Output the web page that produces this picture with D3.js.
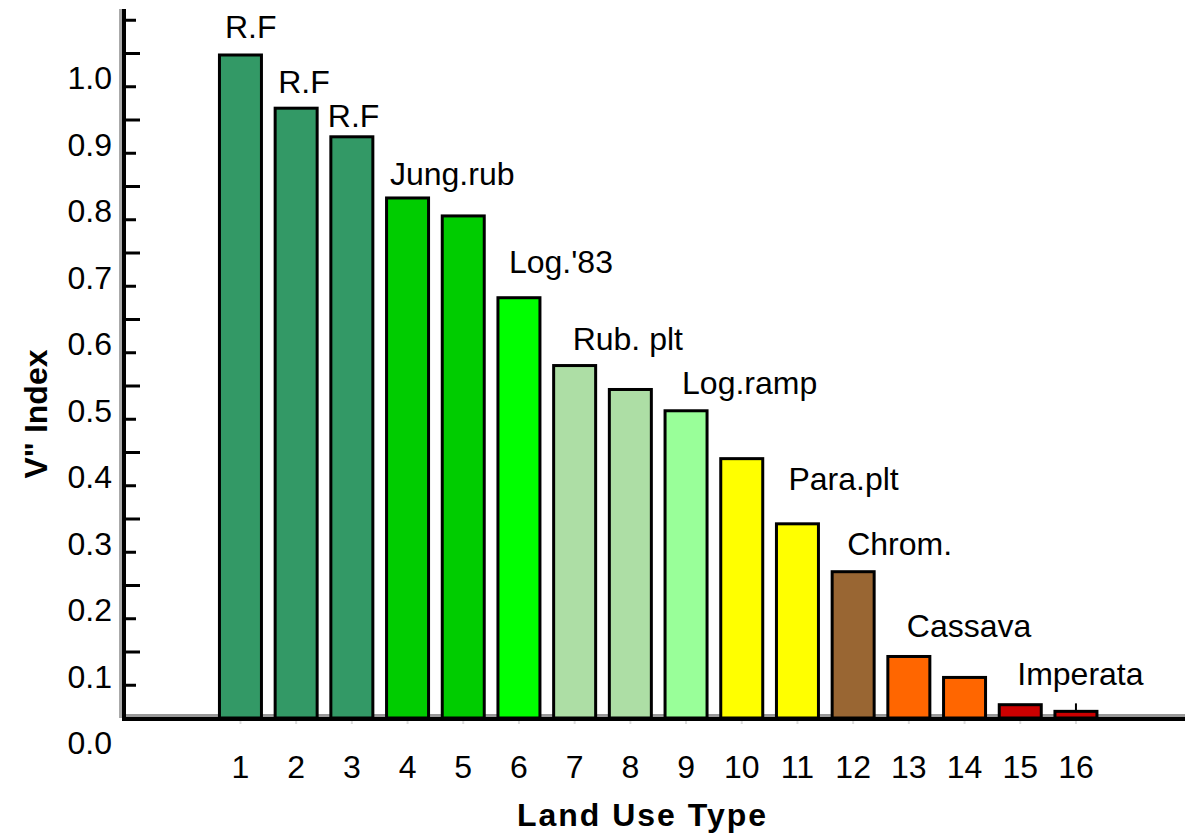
<!DOCTYPE html>
<html>
<head>
<meta charset="utf-8">
<script src="https://cdn.jsdelivr.net/npm/d3@7"></script>
<style>
  html, body { margin: 0; padding: 0; background: #fff; }
  svg { display: block; }
  text { font-family: "Liberation Sans", Arial, sans-serif; fill: #000; }
</style>
</head>
<body>
<svg id="chart" width="1185" height="833"></svg>
<script>
// ---- data ----
const categories = ["1","2","3","4","5","6","7","8","9","10","11","12","13","14","15","16"];
const values = [0.997, 0.917, 0.874, 0.782, 0.755, 0.632, 0.530, 0.494, 0.462, 0.390, 0.292, 0.220, 0.0925, 0.061, 0.020, 0.010];
const barColors = ["#339966","#339966","#339966","#00cc00","#00cc00","#00ff00","#addea5","#addea5","#99ff99","#ffff00","#ffff00","#996633","#ff6600","#ff6600","#cc0000","#cc0000"];
const yTickValues = [0.0,0.1,0.2,0.3,0.4,0.5,0.6,0.7,0.8,0.9,1.0];
const yTickLabels = ["0.0","0.1","0.2","0.3","0.4","0.5","0.6","0.7","0.8","0.9","1.0"];
const labelTexts = ["R.F","R.F","R.F","Jung.rub","Log.'83","Rub. plt","Log.ramp","Para.plt","Chrom.","Cassava","Imperata"];
const labelCats  = ["1","2","3","4","6","7","9","11","12","13","15"];
const xTitle = "Land Use Type";
const yTitle = "V\" Index";

// ---- layout (positions/styles) ----
const labelOffsets = [[5.5,-17],[3,-15.5],[-3,-9.5],[3.4,-13],[11,-24.5],[19,-16],[17,-16.5],[12,-34],[15,-16.5],[19,-19.5],[18,-19.5]];

const svg = d3.select("#chart");
const x = d3.scaleBand().domain(categories).range([212.6, 1103.8]).paddingInner(0.246).paddingOuter(0.123);
const y = d3.scaleLinear().domain([0, 1]).range([718, 53]);
const valueOf = {};
categories.forEach((c, i) => valueOf[c] = values[i]);

// light grey shadow lines
svg.append("line").attr("x1", 120.5).attr("x2", 120.5).attr("y1", 9).attr("y2", 718)
  .attr("stroke", "#aaaaaa").attr("stroke-width", 3);
svg.append("line").attr("x1", 124).attr("x2", 1185).attr("y1", 715.5).attr("y2", 715.5)
  .attr("stroke", "#999999").attr("stroke-width", 3);

// y axis ticks (major at 0.1, minor at 0.05)
const majorTicks = d3.range(1, 11).map(d => d / 10);
const minorTicks = d3.range(0, 11).map(d => d / 10 + 0.05);
svg.append("g").attr("transform", "translate(126,0)")
  .call(d3.axisRight(y).tickValues(majorTicks).tickSize(14).tickFormat(""))
  .call(g => g.select(".domain").remove())
  .call(g => g.selectAll(".tick line").attr("stroke", "#000").attr("stroke-width", 3));
svg.append("g").attr("transform", "translate(126,0)")
  .call(d3.axisRight(y).tickValues(minorTicks).tickSize(10).tickFormat(""))
  .call(g => g.select(".domain").remove())
  .call(g => g.selectAll(".tick line").attr("stroke", "#000").attr("stroke-width", 3));

// y tick labels (offset below their ticks as in the reference)
svg.append("g").selectAll("text").data(yTickValues).join("text")
  .attr("x", 112).attr("y", d => y(d) + 36)
  .attr("text-anchor", "end")
  .style("font-size", "32px")
  .text((d, i) => yTickLabels[i]);

// bars
svg.append("g").selectAll("rect").data(categories).join("rect")
  .attr("x", d => x(d)).attr("width", x.bandwidth())
  .attr("y", (d, i) => y(values[i]))
  .attr("height", (d, i) => y(0) - y(values[i]))
  .attr("fill", (d, i) => barColors[i])
  .attr("stroke", "#000").attr("stroke-width", 3);

// small mark over bar 16
svg.append("line")
  .attr("x1", x("16") + x.bandwidth() / 2).attr("x2", x("16") + x.bandwidth() / 2)
  .attr("y1", y(valueOf["16"]) - 8).attr("y2", y(valueOf["16"]))
  .attr("stroke", "#000").attr("stroke-width", 2);

// y axis line
svg.append("line").attr("x1", 124).attr("x2", 124).attr("y1", 9).attr("y2", 721)
  .attr("stroke", "#000").attr("stroke-width", 4);
// baseline
svg.append("line").attr("x1", 122).attr("x2", 1185).attr("y1", y(0) + 1).attr("y2", y(0) + 1)
  .attr("stroke", "#000").attr("stroke-width", 4);

// x axis: faint ticks and labels
svg.append("g").attr("transform", `translate(0,${y(0) + 3})`)
  .call(d3.axisBottom(x).tickSize(3).tickFormat(""))
  .call(g => g.select(".domain").remove())
  .call(g => g.selectAll(".tick line").attr("stroke", "#dddddd").attr("stroke-width", 2));
svg.append("g").selectAll("text").data(categories).join("text")
  .attr("x", d => x(d) + x.bandwidth() / 2).attr("y", 778)
  .attr("text-anchor", "middle")
  .style("font-size", "32px")
  .text(d => d);

// bar annotations
svg.append("g").selectAll("text").data(labelTexts).join("text")
  .attr("x", (d, i) => x(labelCats[i]) + labelOffsets[i][0])
  .attr("y", (d, i) => y(valueOf[labelCats[i]]) + labelOffsets[i][1])
  .style("font-size", "32px")
  .text(d => d);

// axis titles
svg.append("text")
  .attr("x", 642.5).attr("y", 826)
  .attr("text-anchor", "middle")
  .style("font-size", "32px").style("font-weight", "bold").style("letter-spacing", "2px")
  .text(xTitle);
svg.append("text")
  .attr("transform", "translate(47,414) rotate(-90)")
  .attr("text-anchor", "middle")
  .style("font-size", "32px").style("font-weight", "bold")
  .text(yTitle);
</script>
</body>
</html>
